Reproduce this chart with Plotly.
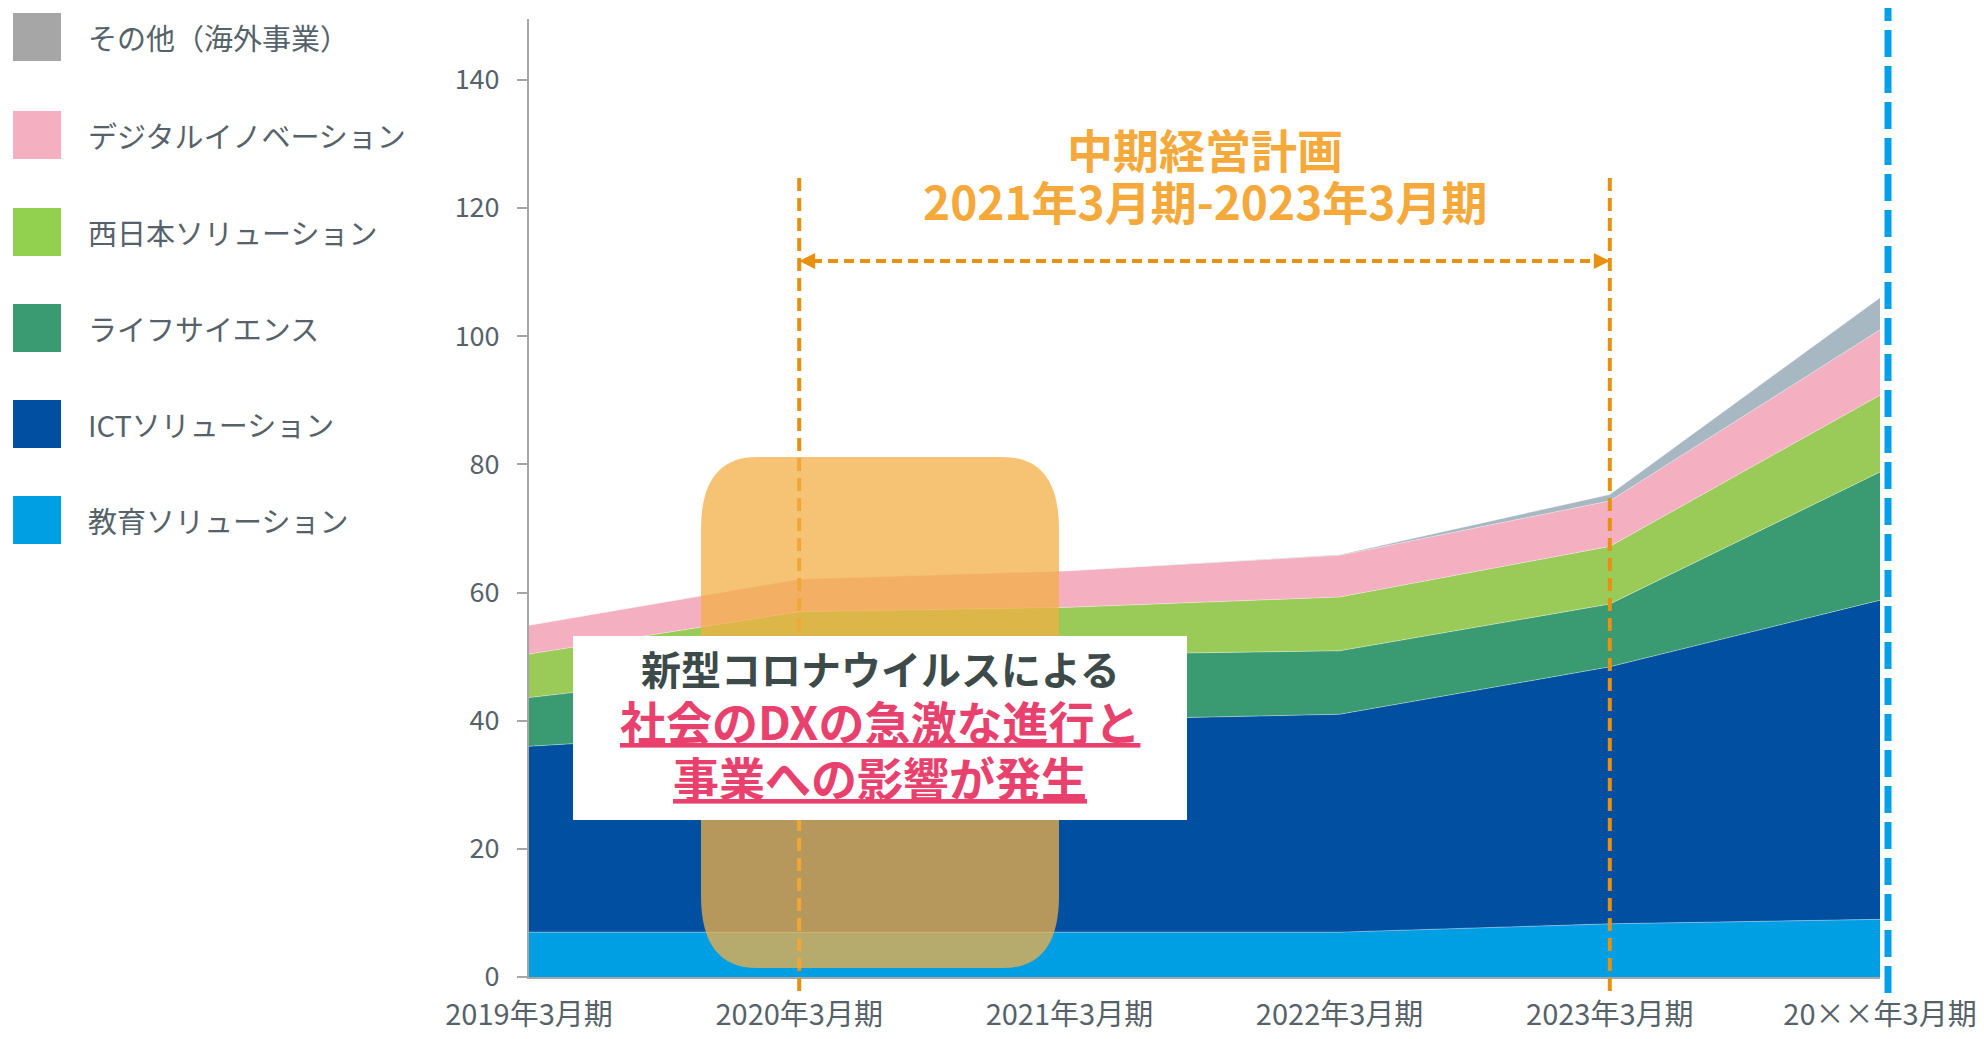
import plotly.graph_objects as go

# ---------------- data ----------------
categories = ["2019年3月期", "2020年3月期", "2021年3月期", "2022年3月期", "2023年3月期", "20××年3月期"]
kyoiku = [7.0, 7.0, 7.0, 7.0, 8.3, 9.0]        # 教育ソリューション
ict = [29.0, 31.5, 33.1, 34.0, 40.1, 49.8]      # ICTソリューション
life = [7.6, 10.0, 10.2, 9.9, 9.8, 20.0]        # ライフサイエンス
nishi = [6.8, 8.5, 7.4, 8.4, 9.0, 12.0]         # 西日本ソリューション
digital = [4.5, 5.1, 5.7, 6.5, 7.1, 10.2]       # デジタルイノベーション
sonota = [0.0, 0.0, 0.0, 0.1, 1.0, 5.0]         # その他（海外事業）

series_names = ["教育ソリューション", "ICTソリューション", "ライフサイエンス",
                "西日本ソリューション", "デジタルイノベーション", "その他（海外事業）"]
series_values = [kyoiku, ict, life, nishi, digital, sonota]
area_colors = ["#009FE3", "#004FA0", "#3A9A72", "#9ACB58", "#F4AFC0", "#A8B8C2"]
legend_colors = ["#009FE3", "#004FA0", "#3A9A72", "#92D050", "#F4AFC0", "#A6A6A6"]
y_ticks = [0, 20, 40, 60, 80, 100, 120, 140]

# ---------------- layout geometry (page pixels) ----------------
OFF = 8                      # default body margin of the html page
W, H = 1984 - 2 * OFF, 1039 - 2 * OFF
PLOT_L, PLOT_R, PLOT_T, PLOT_B = 529, 1880, 19, 977   # in page pixels
L = PLOT_L - OFF
R = W - (PLOT_R - OFF)
T = PLOT_T - OFF
B = H - (PLOT_B - OFF)
PW, PH = PLOT_R - PLOT_L, PLOT_B - PLOT_T
FONT = "Noto Sans CJK JP, Noto Sans, sans-serif"
TXT = "#56626A"


def px(x):
    return (x - PLOT_L) / PW


def py(y):
    return (PLOT_B - y) / PH


xpos = list(range(len(categories)))

fig = go.Figure()
for name, vals, col in zip(series_names, series_values, area_colors):
    fig.add_trace(go.Scatter(
        x=xpos, y=vals, name=name, mode="lines", stackgroup="one",
        line=dict(width=0.6, color="rgba(255,255,255,0.6)"),
        fillcolor=col, showlegend=False, hoverinfo="skip"))

shapes = []
annotations = []

# orange dashed vertical lines (mid-term plan span)
for xv in (1, 4):
    shapes.append(dict(type="line", xref="x", yref="paper", x0=xv, x1=xv,
                       y0=py(991), y1=py(175),
                       line=dict(color="#E8900F", width=4, dash="13px,7px"), layer="above"))

# orange rounded box (semi-transparent)
bx0, bx1, by0, by1 = 701, 1059, 457, 968
rx, ry = 56, 72
path = (f"M {px(bx0+rx)},{py(by0)} L {px(bx1-rx)},{py(by0)} "
        f"Q {px(bx1)},{py(by0)} {px(bx1)},{py(by0+ry)} "
        f"L {px(bx1)},{py(by1-ry)} Q {px(bx1)},{py(by1)} {px(bx1-rx)},{py(by1)} "
        f"L {px(bx0+rx)},{py(by1)} Q {px(bx0)},{py(by1)} {px(bx0)},{py(by1-ry)} "
        f"L {px(bx0)},{py(by0+ry)} Q {px(bx0)},{py(by0)} {px(bx0+rx)},{py(by0)} Z")
shapes.append(dict(type="path", xref="paper", yref="paper", path=path,
                   fillcolor="rgba(243,175,70,0.75)", line=dict(width=0), layer="above"))

# horizontal dashed double arrow
ay = py(261)
hx = 16 / (PW / 5)
hy = 8 / PH
shapes.append(dict(type="line", xref="x", yref="paper", x0=1 + hx * 0.8, x1=4 - hx * 0.8,
                   y0=ay, y1=ay, line=dict(color="#E8900F", width=4, dash="10px,6px"), layer="above"))
shapes.append(dict(type="path", xref="x", yref="paper",
                   path=f"M 1,{ay} L {1+hx},{ay+hy} L {1+hx},{ay-hy} Z",
                   fillcolor="#E8900F", line=dict(width=0), layer="above"))
shapes.append(dict(type="path", xref="x", yref="paper",
                   path=f"M 4,{ay} L {4-hx},{ay+hy} L {4-hx},{ay-hy} Z",
                   fillcolor="#E8900F", line=dict(width=0), layer="above"))

# white callout box
shapes.append(dict(type="rect", xref="paper", yref="paper",
                   x0=px(573), x1=px(1187), y0=py(636), y1=py(820),
                   fillcolor="white", line=dict(width=0), layer="above"))

# blue dashed line at right
shapes.append(dict(type="line", xref="paper", yref="paper", x0=px(1888), x1=px(1888),
                   y0=py(993), y1=py(OFF),
                   line=dict(color="#00A0E9", width=7, dash="27px,9px"), layer="above"))

# manual legend (top: その他 ... bottom: 教育)
leg_centers = [37, 135, 232, 328, 424, 520]
for i, (name, col) in enumerate(zip(series_names[::-1], legend_colors[::-1])):
    c = leg_centers[i]
    shapes.append(dict(type="rect", xref="paper", yref="paper",
                       x0=px(13), x1=px(61), y0=py(c - 24), y1=py(c + 24),
                       fillcolor=col, line=dict(width=0), layer="above"))
    annotations.append(dict(xref="paper", yref="paper", x=px(86), y=py(c),
                            xanchor="left", yanchor="middle", text=name, showarrow=False,
                            font=dict(family=FONT, size=29, color=TXT)))

# plan title
annotations.append(dict(xref="x", yref="paper", x=2.5, y=py(148), xanchor="center", yanchor="middle",
                        text="中期経営計画", showarrow=False,
                        font=dict(family=FONT, size=46, color="#F4A93A", weight=700)))
annotations.append(dict(xref="x", yref="paper", x=2.5, y=py(200), xanchor="center", yanchor="middle",
                        text="2021年3月期-2023年3月期", showarrow=False,
                        font=dict(family=FONT, size=46, color="#F4A93A", weight=700)))

# callout text
annotations.append(dict(xref="paper", yref="paper", x=px(880), y=py(668), xanchor="center", yanchor="middle",
                        text="新型コロナウイルスによる", showarrow=False,
                        font=dict(family=FONT, size=40, color="#3D4A4A", weight=700)))
annotations.append(dict(xref="paper", yref="paper", x=px(880), y=py(720), xanchor="center", yanchor="middle",
                        text="社会のDXの急激な進行と", showarrow=False,
                        font=dict(family=FONT, size=46, color="#E8416E", weight=700, lineposition="under")))
annotations.append(dict(xref="paper", yref="paper", x=px(880), y=py(776), xanchor="center", yanchor="middle",
                        text="事業への影響が発生", showarrow=False,
                        font=dict(family=FONT, size=46, color="#E8416E", weight=700, lineposition="under")))

fig.update_layout(
    width=W, height=H,
    margin=dict(l=L, r=R, t=T, b=B, pad=0, autoexpand=False),
    paper_bgcolor="white", plot_bgcolor="white",
    font=dict(family=FONT, size=27, color=TXT),
    showlegend=False,
    shapes=shapes, annotations=annotations,
    xaxis=dict(range=[0, 5], tickmode="array", tickvals=xpos, ticktext=categories,
               showgrid=False, zeroline=False, showline=True, linecolor="#A6A6A6", linewidth=2,
               ticks="", ticklabelstandoff=11, ticklabeloverflow="allow", automargin=False,
               tickfont=dict(size=29, color=TXT), fixedrange=True),
    yaxis=dict(range=[0, 149.5], tickmode="array", tickvals=y_ticks,
               showgrid=False, zeroline=False, showline=True, linecolor="#A6A6A6", linewidth=2,
               ticks="outside", ticklen=10, tickwidth=2, tickcolor="#A6A6A6", automargin=False,
               ticklabelstandoff=12, tickfont=dict(size=27, color=TXT), fixedrange=True),
)

fig.write_html("out.html")
